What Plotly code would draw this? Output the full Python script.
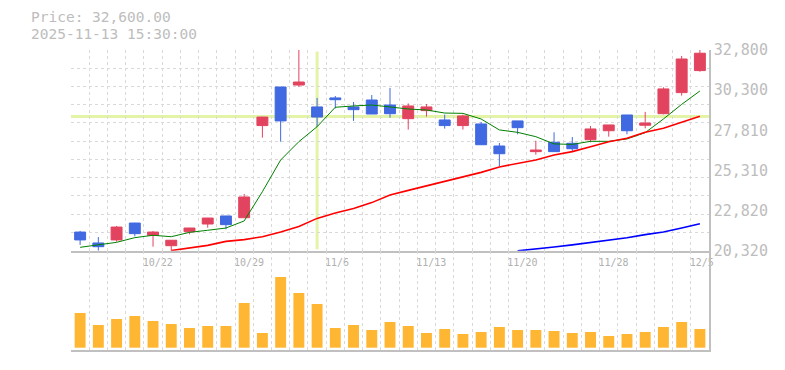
import numpy as np
import plotly.graph_objects as go

# ---------------- data ----------------
dates = ["2025-10-16", "2025-10-17", "2025-10-20", "2025-10-21", "2025-10-22",
         "2025-10-23", "2025-10-24", "2025-10-27", "2025-10-28", "2025-10-29",
         "2025-10-30", "2025-10-31", "2025-11-04", "2025-11-05", "2025-11-06",
         "2025-11-07", "2025-11-10", "2025-11-11", "2025-11-12", "2025-11-13",
         "2025-11-14", "2025-11-17", "2025-11-18", "2025-11-19", "2025-11-20",
         "2025-11-21", "2025-11-25", "2025-11-26", "2025-11-27", "2025-11-28",
         "2025-12-01", "2025-12-02", "2025-12-03", "2025-12-04", "2025-12-05"]

open_ = [21480, 20800, 20990, 22040, 21280, 20630, 21500, 21980, 22480, 22370,
         28100, 30500, 30620, 29260, 29820, 29260, 29690, 29380, 28530, 29030,
         28450, 28100, 28200, 26830, 28390, 26480, 27060, 27000, 27220, 27780,
         28760, 28120, 28840, 30150, 31520]
high = [21550, 21170, 21860, 22050, 21550, 20970, 21740, 22360, 22480, 23850,
        28640, 30500, 32800, 29820, 29940, 29570, 30000, 30440, 29480, 29440,
        28780, 28780, 28320, 27020, 28390, 27160, 27680, 27390, 28070, 28140,
        28760, 28950, 30480, 32430, 32800]
low = [20680, 20320, 20880, 21210, 20570, 20320, 21340, 21750, 21650, 22360,
       27350, 27100, 30500, 28030, 29170, 28390, 28820, 28590, 27850, 28660,
       27910, 27850, 26910, 25570, 27560, 26290, 26470, 26500, 27060, 27410,
       27560, 27930, 28800, 29960, 31450]
close = [20990, 20570, 21790, 21380, 21480, 20970, 21730, 22350, 21940, 23660,
         28630, 28390, 30810, 28630, 29710, 29090, 28820, 28840, 29320, 29260,
         28100, 28700, 26910, 26350, 27970, 26580, 26480, 26660, 27890, 28140,
         27780, 28260, 30380, 32240, 32600]

volume = [347000, 227000, 287000, 317000, 267000, 237000, 197000, 217000, 217000,
          447000, 147000, 707000, 547000, 437000, 197000, 227000, 177000, 257000,
          217000, 147000, 187000, 137000, 157000, 207000, 177000, 177000, 167000,
          147000, 157000, 117000, 137000, 157000, 207000, 257000, 187000]

ma5 = [20530, 20700, 20840, 21130, 21280, 21190, 21460, 21590, 21730, 22170,
       23990, 25960, 27100, 28030, 29240, 29320, 29380, 29260, 29130, 29070,
       28880, 28860, 28510, 27830, 27680, 27410, 26960, 26930, 27120, 27120,
       27270, 27660, 28510, 29420, 30250]
ma25 = [None, None, None, None, None, 20330, 20470, 20650, 20900, 21010,
        21190, 21480, 21820, 22330, 22660, 22950, 23310, 23780, 24070, 24340,
        24610, 24900, 25190, 25530, 25750, 25960, 26270, 26480, 26790, 27100,
        27310, 27680, 27930, 28300, 28680]
ma75 = [None] * 24 + [20310, 20410, 20550, 20680, 20820, 20970, 21130, 21320,
                      21480, 21730, 22000]

tick_dates = ["2025-10-22", "2025-10-29", "2025-11-06", "2025-11-13",
              "2025-11-20", "2025-11-28", "2025-12-05"]
tick_labels = ["10/22", "10/29", "11/6", "11/13", "11/20", "11/28", "12/5"]

price_ticks = [20320, 22816, 25312, 27808, 30304, 32800]
price_tick_labels = ["20,320", "22,820", "25,310", "27,810", "30,300", "32,800"]

crosshair_date = "2025-11-05"
crosshair_price = 28660
header_price = "Price: 32,600.00"
header_time = "2025-11-13 15:30:00"

# ---------------- style ----------------
RED = "#e2445f"
BLUE = "#4169e1"
VOL = "#ffb733"
GRID = "#d9d9d9"
AXIS = "#c0c0c0"
TXT = "#bdbdbd"
MONO = "DejaVu Sans Mono"

xs = list(range(len(dates)))
tickvals = [dates.index(d) for d in tick_dates]
ymin, ymax = price_ticks[0], price_ticks[-1]
hgrid = [float(v) for v in np.linspace(ymin, ymax, 12)]

fig = go.Figure()
fig.add_trace(go.Candlestick(
    x=xs, open=open_, high=high, low=low, close=close,
    increasing=dict(line=dict(color=RED, width=1), fillcolor=RED),
    decreasing=dict(line=dict(color=BLUE, width=1), fillcolor=BLUE),
    whiskerwidth=0, hoverinfo="skip", showlegend=False, xaxis="x", yaxis="y"))
fig.add_trace(go.Scatter(x=xs, y=ma5, mode="lines", line=dict(color="#008000", width=1),
                         hoverinfo="skip", showlegend=False, xaxis="x", yaxis="y"))
fig.add_trace(go.Scatter(x=xs, y=ma25, mode="lines", line=dict(color="#ff0000", width=1.6),
                         hoverinfo="skip", showlegend=False, xaxis="x", yaxis="y"))
fig.add_trace(go.Scatter(x=xs, y=ma75, mode="lines", line=dict(color="#0000ff", width=1.6),
                         hoverinfo="skip", showlegend=False, xaxis="x", yaxis="y"))
fig.add_trace(go.Bar(x=xs, y=volume, marker=dict(color=VOL, line=dict(width=0)),
                     width=0.6, hoverinfo="skip", showlegend=False,
                     xaxis="x2", yaxis="y2"))

CROSS = "#e4f4a6"
cx = dates.index(crosshair_date)
fig.add_shape(type="line", xref="x", yref="paper", x0=cx, x1=cx, y0=0.336, y1=0.995,
              line=dict(color=CROSS, width=3), layer="below")
fig.add_shape(type="line", xref="paper", yref="y", x0=0, x1=1,
              y0=crosshair_price, y1=crosshair_price,
              line=dict(color=CROSS, width=3), layer="below")

minor_x = dict(tickmode="linear", tick0=-0.5, dtick=1, showgrid=True,
               gridcolor=GRID, griddash="3px,3px", gridwidth=1, ticks="")

vdom = 0.331
vmax = max(volume)
fig.update_layout(
    width=785, height=370,
    margin=dict(l=71, r=76, t=50, b=20),
    paper_bgcolor="white", plot_bgcolor="white",
    boxgap=0.25, boxgroupgap=0.2,
    showlegend=False, hovermode=False,
    xaxis=dict(domain=[0, 1], anchor="y", range=[-0.5, len(dates) - 0.5],
               tickmode="array", tickvals=tickvals, ticktext=tick_labels,
               tickfont=dict(family=MONO, size=10, color="#b0b0b0"),
               ticklabelposition="outside right", ticklabelshift=-11,
               ticklabelstandoff=2,
               ticks="", showgrid=False, zeroline=False, minor=minor_x,
               showline=True, linecolor=AXIS, linewidth=1.5,
               rangeslider=dict(visible=False), fixedrange=True),
    yaxis=dict(domain=[vdom, 1], anchor="x", side="right", range=[ymin, ymax],
               tickmode="array", tickvals=price_ticks, ticktext=price_tick_labels,
               tickfont=dict(family=MONO, size=15, color=TXT),
               ticks="", showgrid=False, zeroline=False,
               minor=dict(tickmode="array", tickvals=hgrid, showgrid=True,
                          gridcolor=GRID, griddash="3px,3px", gridwidth=1, ticks=""),
               showline=True, linecolor=AXIS, linewidth=1.5, fixedrange=True),
    xaxis2=dict(domain=[0, 1], anchor="y2", matches="x", range=[-0.5, len(dates) - 0.5],
                showticklabels=False, ticks="", showgrid=False, zeroline=False,
                minor=minor_x, showline=True, linecolor=AXIS, linewidth=1.5,
                fixedrange=True),
    yaxis2=dict(domain=[0, vdom], anchor="x2", side="right",
                range=[-0.0325 * vmax, 1.372 * vmax],
                showticklabels=False, ticks="", showgrid=False, zeroline=False,
                showline=True, linecolor=AXIS, linewidth=1.5, fixedrange=True),
)

fig.add_annotation(text=header_price, xref="paper", yref="paper",
                   x=-0.0655, y=1.110, xanchor="left", yanchor="middle",
                   showarrow=False, font=dict(family=MONO, size=14.5, color=TXT))
fig.add_annotation(text=header_time, xref="paper", yref="paper",
                   x=-0.0655, y=1.053, xanchor="left", yanchor="middle",
                   showarrow=False, font=dict(family=MONO, size=14.5, color=TXT))

fig.write_html("out.html", config={"displayModeBar": False},
               post_script="document.body.style.margin='0px';")
